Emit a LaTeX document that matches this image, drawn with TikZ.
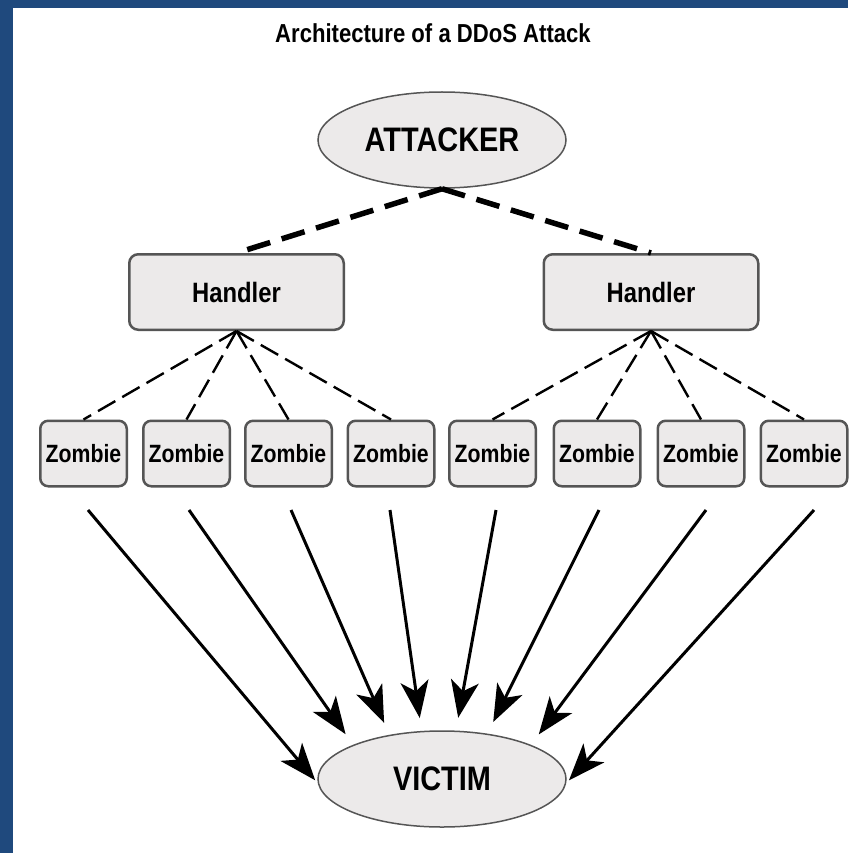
\documentclass[tikz,border=0pt]{standalone}
\usepackage{fontspec}
\newfontfamily\narrowfont[FakeStretch=0.85]{Liberation Sans}
\usetikzlibrary{shapes.geometric,arrows.meta}
\definecolor{frameblue}{HTML}{1F497D}
\definecolor{boxgray}{HTML}{ECEAEA}
\definecolor{edgegray}{HTML}{555555}

\begin{document}
\begin{tikzpicture}
  [x=1pt,y=-1pt,
   every node/.style={inner sep=0pt,font=\narrowfont\bfseries},
   oval/.style={ellipse,draw=edgegray,line width=1.5pt,fill=boxgray,
     minimum width=248pt,minimum height=96pt,font=\narrowfont\bfseries\fontsize{34}{38}\selectfont},
   handlerbox/.style={rectangle,rounded corners=9pt,draw=edgegray,line width=2.5pt,fill=boxgray,
     minimum width=214.5pt,minimum height=75.5pt,font=\narrowfont\bfseries\fontsize{28}{32}\selectfont},
   zombiebox/.style={rectangle,rounded corners=8pt,draw=edgegray,line width=2.5pt,fill=boxgray,
     minimum width=86.5pt,minimum height=65.5pt,font=\narrowfont\bfseries\fontsize{25}{29}\selectfont},
   bigdash/.style={line width=5.5pt,dash pattern=on 24pt off 12pt},
   smalldash/.style={line width=2.4pt,dash pattern=on 20pt off 8pt},
   hit/.style={line width=3pt,-{Stealth[length=37pt,width=28pt,inset=10pt]},shorten >=13pt}]
  \useasboundingbox (0,0) rectangle (848,853);
  \fill[white] (0,0) rectangle (848,853);
  \fill[frameblue] (0,0) rectangle (13,853);
  \fill[frameblue] (0,0) rectangle (848,8);

  \node (t) at (433,33) {\fontsize{26}{30}\selectfont Architecture of a DDoS Attack};
  \node[oval] (a) at (442,140) {ATTACKER};
  \node[handlerbox] (h1) at (236.5,292) {Handler};
  \node[handlerbox] (h2) at (651,292) {Handler};
  \node[zombiebox] (z1) at (83.5,453.5) {Zombie};
  \node[zombiebox] (z2) at (186.5,453.5) {Zombie};
  \node[zombiebox] (z3) at (288.5,453.5) {Zombie};
  \node[zombiebox] (z4) at (391,453.5) {Zombie};
  \node[zombiebox] (z5) at (492.5,453.5) {Zombie};
  \node[zombiebox] (z6) at (597,453.5) {Zombie};
  \node[zombiebox] (z7) at (701,453.5) {Zombie};
  \node[zombiebox] (z8) at (804,453.5) {Zombie};
  \node[oval] (v) at (442,779) {VICTIM};

  \coordinate (s1) at (88,510);
  \coordinate (s2) at (189,510);
  \coordinate (s3) at (291,510);
  \coordinate (s4) at (390,510);
  \coordinate (s5) at (496,510);
  \coordinate (s6) at (599,510);
  \coordinate (s7) at (706,510);
  \coordinate (s8) at (814,510);

  \draw[bigdash] (a.south) -- (h1.north);
  \draw[bigdash] (a.south) -- (h2.north);
  \draw[smalldash] (h1.south) -- (z1.north);
  \draw[smalldash] (h1.south) -- (z2.north);
  \draw[smalldash] (h1.south) -- (z3.north);
  \draw[smalldash] (h1.south) -- (z4.north);
  \draw[smalldash] (h2.south) -- (z5.north);
  \draw[smalldash] (h2.south) -- (z6.north);
  \draw[smalldash] (h2.south) -- (z7.north);
  \draw[smalldash] (h2.south) -- (z8.north);

  \draw[hit,shorten >=4pt] (s1) -- (v.182);
  \draw[hit] (s2) -- (v.159);
  \draw[hit] (s3) -- (v.140);
  \draw[hit] (s4) -- (v.113);
  \draw[hit] (s5) -- (v.74);
  \draw[hit] (s6) -- (v.45);
  \draw[hit] (s7) -- (v.21);
  \draw[hit,shorten >=4pt] (s8) -- (v.-2);
\end{tikzpicture}
\end{document}
